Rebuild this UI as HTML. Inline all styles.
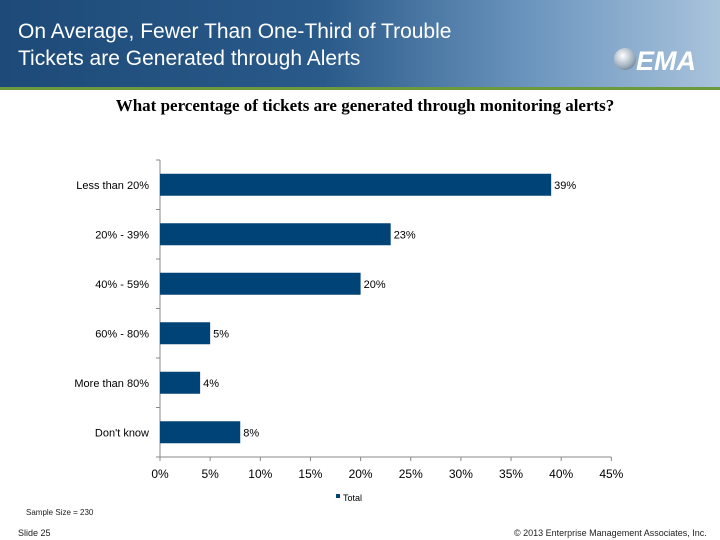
<!DOCTYPE html>
<html><head><meta charset="utf-8"><style>
body{margin:0;width:720px;height:540px;overflow:hidden;background:#fff;font-family:"Liberation Sans",sans-serif;position:relative}
#hdr{position:absolute;left:0;top:0;width:720px;height:87px;background:linear-gradient(90deg,#1d4a78 0%,#2a5a8a 45%,#6f98c0 75%,#a9c3dc 100%);border-bottom:3px solid #6a9a3c}
#title{position:absolute;left:18px;top:18px;color:#fff;font-size:21px;line-height:27px}
#logo{position:absolute;left:636px;top:46px;color:#fff;font-size:27px;font-weight:bold;font-style:italic}
#logo-ball{position:absolute;left:614px;top:48px;width:22px;height:22px;border-radius:50%;background:radial-gradient(circle at 40% 35%,#fff,#9ab 60%,#456)}
#sub{position:absolute;left:0;width:730px;top:96px;text-align:center;font-family:"Liberation Serif",serif;font-weight:bold;font-size:17px}
.sm{position:absolute;font-size:9px;color:#222}
</style></head><body>
<div id="hdr">
<div id="title">On Average, Fewer Than One-Third of Trouble<br>Tickets are Generated through Alerts</div>
<div id="logo-ball"></div>
<div id="logo">EMA</div>
</div>
<div id="sub">What percentage of tickets are generated through monitoring alerts?</div>
<svg id="chart" width="720" height="540" style="position:absolute;left:0;top:0"></svg>
<div class="sm" style="left:26px;top:508px;font-size:8px">Sample Size = 230</div>
<div class="sm" style="left:18px;top:528px">Slide 25</div>
<div class="sm" style="left:514px;top:528px">© 2013 Enterprise Management Associates, Inc.</div>
<script>
const categories=["Less than 20%","20% - 39%","40% - 59%","60% - 80%","More than 80%","Don't know"];
const values=[39,23,20,5,4,8];
const ticks=[0,5,10,15,20,25,30,35,40,45];
const NS="http://www.w3.org/2000/svg";
const svg=document.getElementById('chart');
const x0=160,pxPer=10.03,yTop=160,yBot=457,band=(yBot-yTop)/categories.length,bh=22;
const X=v=>x0+v*pxPer;
const Y=i=>yTop+band*i+band/2;
function mk(t,a){const e=document.createElementNS(NS,t);for(const k in a)e.setAttribute(k,a[k]);svg.appendChild(e);return e;}
const ax=mk('line',{x1:x0,y1:yTop,x2:x0,y2:yBot,stroke:'#888'});


const xa=mk('line',{x1:x0,y1:yBot,x2:X(45),y2:yBot,stroke:'#888'});


for(let i=0;i<=categories.length;i++){const t=mk('line',{x1:x0-4,x2:x0,y1:yTop+band*i,y2:yTop+band*i,stroke:'#888'});

}
categories.forEach((c,i)=>{
const l=mk('text',{x:x0-11,y:Y(i)+4,'text-anchor':'end','font-size':11,'font-family':'Liberation Sans'});l.textContent=c;


const r=mk('rect',{x:x0,y:Y(i)-bh/2,width:X(values[i])-x0,height:bh,fill:'#004477'});


const v=mk('text',{x:X(values[i])+3,y:Y(i)+4,'font-size':11,'font-family':'Liberation Sans'});v.textContent=values[i]+'%';


});
ticks.forEach(t=>{
const tk=mk('line',{x1:X(t),x2:X(t),y1:yBot,y2:yBot+4,stroke:'#888'});


const l=mk('text',{x:X(t),y:478,'text-anchor':'middle','font-size':12,'font-family':'Liberation Sans'});l.textContent=t+'%';

});
const lk=mk('rect',{x:336,y:494,width:4,height:4,fill:'#004477'});


const lt=mk('text',{x:343,y:501,'font-size':9,'font-family':'Liberation Sans'});lt.textContent='Total';


</script>
</body></html>
